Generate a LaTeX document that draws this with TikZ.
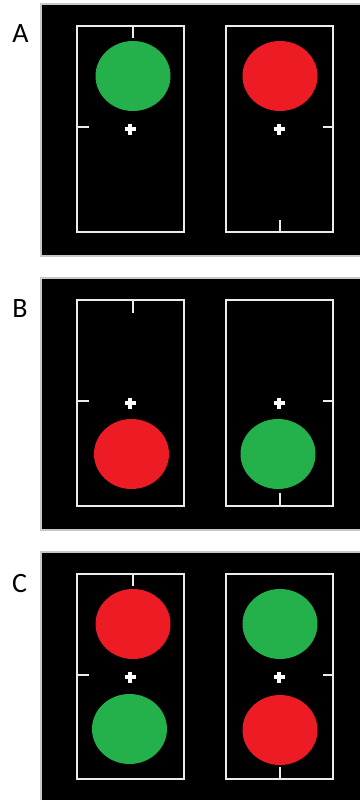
\documentclass[tikz,border=0pt]{standalone}
\usepackage{fontspec}
\setmainfont{Carlito}
\definecolor{gr}{RGB}{36,177,76}
\definecolor{rd}{RGB}{237,28,36}
\definecolor{frame}{RGB}{200,200,200}
\definecolor{ln}{RGB}{235,235,235}
\begin{document}
\begin{tikzpicture}[x=1pt,y=-1pt,
  panel/.style={fill=black,draw=frame,line width=1.2pt},
  box/.style={draw=ln,line width=1.8pt},
  tick/.style={draw=ln,line width=1.3pt},
  plus/.style={white,line width=3.2pt},
  lab/.style={font=\fontsize{28}{28}\selectfont,anchor=center,inner sep=0pt}]
\useasboundingbox (0,0) rectangle (359,800);
% panels
\path[panel] (41,4) rectangle (362,256);
\path[panel] (41,278) rectangle (362,530);
\path[panel] (41,552) rectangle (362,803);
% labels
\node[lab] (la) at (20.5,34) {A};
\node[lab] (lb) at (20,308.5) {B};
\node[lab] (lc) at (19.5,583.5) {C};
% ---- Panel A
\path[box] (77,26) rectangle (184,232);
\path[box] (226,26) rectangle (333,232);
\path[tick] (133,26) -- (133,38);
\path[tick] (77,127) -- (89,127);
\path[tick] (280,232) -- (280,220);
\path[tick] (333,127) -- (323,127);
\fill[gr] (133,76) ellipse [x radius=37.5,y radius=35];
\fill[rd] (280,76) ellipse [x radius=37.5,y radius=35];
\draw[plus] (124.5,129) -- (135.5,129) (130,123.5) -- (130,134.5);
\draw[plus] (273.5,129) -- (284.5,129) (279,123.5) -- (279,134.5);
% ---- Panel B
\path[box] (77,300) rectangle (184,506);
\path[box] (226,300) rectangle (333,506);
\path[tick] (133,300) -- (133,313);
\path[tick] (77,401) -- (89,401);
\path[tick] (280,506) -- (280,493);
\path[tick] (333,401) -- (323,401);
\fill[rd] (131.5,454) ellipse [x radius=37.5,y radius=35];
\fill[gr] (278,454) ellipse [x radius=37.5,y radius=35];
\draw[plus] (124.5,403) -- (135.5,403) (130,397.5) -- (130,408.5);
\draw[plus] (273.5,403) -- (284.5,403) (279,397.5) -- (279,408.5);
% ---- Panel C
\path[box] (77,574) rectangle (184,779);
\path[box] (226,574) rectangle (333,779);
\path[tick] (133,574) -- (133,586);
\path[tick] (77,675) -- (89,675);
\path[tick] (280,779) -- (280,767);
\path[tick] (333,675) -- (323,675);
\fill[rd] (133,624) ellipse [x radius=37.5,y radius=35];
\fill[gr] (129.5,729) ellipse [x radius=37.5,y radius=35];
\fill[gr] (280,624) ellipse [x radius=37.5,y radius=35];
\fill[rd] (280,730) ellipse [x radius=37.5,y radius=35];
\draw[plus] (124.5,677) -- (135.5,677) (130,671.5) -- (130,682.5);
\draw[plus] (273.5,677) -- (284.5,677) (279,671.5) -- (279,682.5);
\end{tikzpicture}
\end{document}
